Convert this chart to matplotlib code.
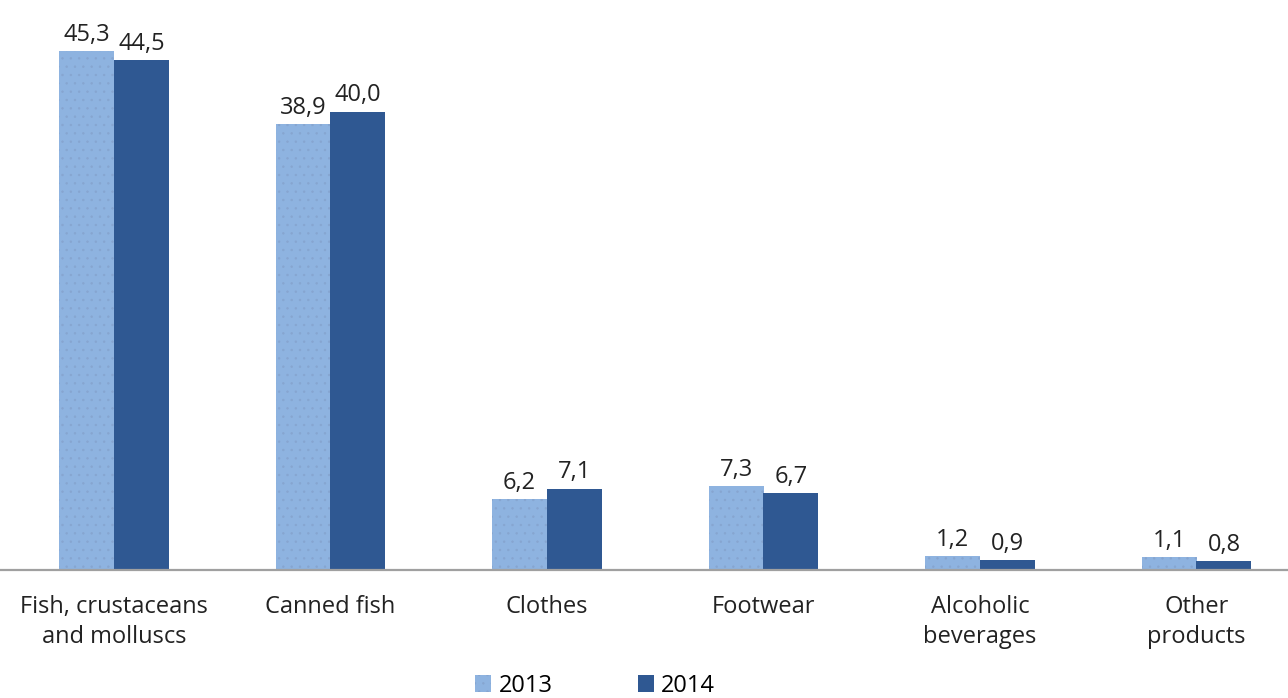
import numpy as np
import matplotlib.pyplot as plt

categories = ['Fish, crustaceans\nand molluscs', 'Canned fish', 'Clothes', 'Footwear',
              'Alcoholic\nbeverages', 'Other\nproducts']
vals_2013 = [45.3, 38.9, 6.2, 7.3, 1.2, 1.1]
vals_2014 = [44.5, 40.0, 7.1, 6.7, 0.9, 0.8]
years = ['2013', '2014']

light = '#8eb3e0'
dark = '#2f5892'
plt.rcParams['font.family'] = ['Open Sans', 'DejaVu Sans']
plt.rcParams['hatch.linewidth'] = 0.5

fig = plt.figure(figsize=(12.88, 6.98), dpi=100)
ax = fig.add_axes([0, 128 / 698, 1, 540 / 698])

x = np.arange(len(categories))
w = 0.254
b1 = ax.bar(x - w / 2, vals_2013, w, color=light, edgecolor='#86a5d0', linewidth=0, hatch='..', label=years[0])
b2 = ax.bar(x + w / 2, vals_2014, w, color=dark, linewidth=0, label=years[1])

for bars, vals in ((b1, vals_2013), (b2, vals_2014)):
    for r, v in zip(bars, vals):
        ax.annotate(f'{v:.1f}'.replace('.', ','), (r.get_x() + r.get_width() / 2, r.get_height()),
                    xytext=(0, 3), textcoords='offset points', ha='center', va='bottom',
                    fontsize=17, color='#222222')

ax.set_xlim(-114 / 216.5, (1288 - 114) / 216.5)
ax.set_ylim(0, 540 / 11.46)
ax.set_xticks(x)
ax.set_xticklabels(categories, fontsize=17, color='#222222', linespacing=1.35)
ax.tick_params(axis='x', length=0, pad=18)
ax.set_yticks([])
for s in ['top', 'right', 'left']:
    ax.spines[s].set_visible(False)
ax.spines['bottom'].set_color('#a0a0a0')
ax.spines['bottom'].set_linewidth(1.6)

leg = fig.legend(handles=[b1, b2], labels=years, loc='lower center', ncol=2, frameon=False,
                 fontsize=17, bbox_to_anchor=(0.462, -0.03), handlelength=0.7, handleheight=0.7,
                 handletextpad=0.3, columnspacing=3.6)

fig.savefig('out.png', dpi=100)
